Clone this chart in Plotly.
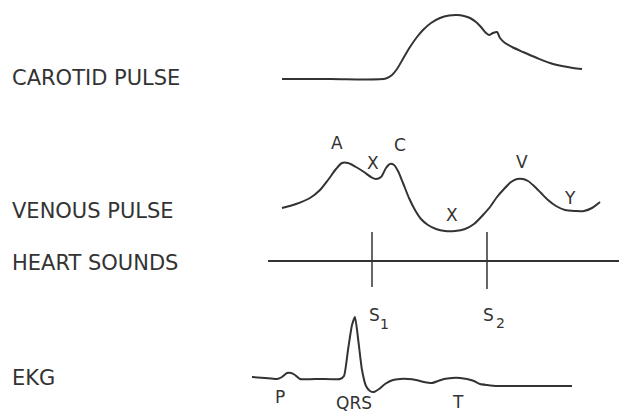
import plotly.graph_objects as go

# ---------------- data (x = time axis, y = screen position) -------------
carotid_x = [282, 330, 386, 392, 397, 404, 410, 417, 423, 431, 440, 449, 457, 464, 470, 476, 481, 486, 489, 493, 497, 500, 505, 512, 523, 537, 550, 562, 573, 582]
carotid_y = [79, 79, 78.5, 75, 69, 57, 47, 37, 30, 23, 18, 15.5, 15, 16, 18, 22, 27, 33, 35, 33, 32, 38, 43, 47, 52, 58, 63, 66, 68, 69]

venous_x = [282, 296, 310, 320, 328, 336, 342, 348, 356, 364, 371, 376, 381, 386, 390, 394, 398, 403, 409, 415, 421, 428, 436, 445, 455, 465, 474, 483, 490, 497, 504, 511, 517, 523, 528, 534, 541, 548, 556, 565, 575, 584, 592, 600]
venous_y = [208, 204, 198, 190, 180, 169, 163, 163, 167, 172, 177, 179, 177, 168, 164, 165, 171, 183, 198, 210, 219, 225, 229, 231, 231, 229, 224, 215, 207, 197, 189, 182, 179, 179, 181, 186, 193, 200, 206, 210, 211, 211, 208, 202]

sounds_x = [268, 627]
sounds_y = [261, 261]
s1_x, s2_x = 372, 487
s_top, s1_bottom, s2_bottom = 232, 287, 289

ekg_x = [252, 265, 277, 282, 287, 291, 295, 300, 320, 340, 344, 348, 352, 355, 358, 362, 366, 370, 374, 379, 385, 393, 400, 408, 416, 424, 432, 438, 444, 452, 460, 467, 474, 480, 487, 497, 510, 530, 550, 572]
ekg_y = [377, 378, 379, 377, 373, 373, 375, 379, 379, 379, 376, 350, 325, 317, 338, 370, 386, 391, 392, 389, 384, 380, 379, 379, 380, 382, 383, 381, 379, 378, 378, 379, 381, 384, 385, 386, 386, 386, 386, 386]

row_labels = ["CAROTID PULSE", "VENOUS PULSE", "HEART SOUNDS", "EKG"]
row_label_y = [78, 211, 263, 378]

wave_labels = ["A", "X", "C", "X", "V", "Y", "S", "S", "P", "QRS", "T"]
wave_label_x = [337, 373, 400, 452, 522, 570, 374, 488, 280, 354, 458]
wave_label_y = [143, 163, 145, 215, 162, 198, 315, 315, 397, 403, 402]

sub_labels = ["1", "2"]
sub_label_x = [384, 500]
sub_label_y = [324, 323]

INK = "#333333"
FONT = "DejaVu Sans"
PAGE_MARGIN = 8  # browser default body margin

fig = go.Figure()
line = dict(color=INK, width=2)
fig.add_trace(go.Scatter(x=carotid_x, y=carotid_y, mode="lines", line=dict(line, shape="spline", smoothing=0.8)))
fig.add_trace(go.Scatter(x=venous_x, y=venous_y, mode="lines", line=dict(line, shape="spline", smoothing=0.8)))
fig.add_trace(go.Scatter(x=sounds_x, y=sounds_y, mode="lines", line=line))
fig.add_trace(go.Scatter(x=[s1_x, s1_x], y=[s_top, s1_bottom], mode="lines", line=dict(color=INK, width=1.5)))
fig.add_trace(go.Scatter(x=[s2_x, s2_x], y=[s_top, s2_bottom], mode="lines", line=dict(color=INK, width=1.5)))
fig.add_trace(go.Scatter(x=ekg_x, y=ekg_y, mode="lines", line=dict(line, shape="spline", smoothing=0.5)))

for t, yy in zip(row_labels, row_label_y):
    fig.add_annotation(x=10, y=yy, text=t,
                       showarrow=False, xanchor="left", yanchor="middle",
                       font=dict(family=FONT, size=21, color=INK))

for t, xx, yy in zip(wave_labels, wave_label_x, wave_label_y):
    fig.add_annotation(x=xx, y=yy, text=t, showarrow=False, xanchor="center", yanchor="middle",
                       font=dict(family=FONT, size=17, color=INK))

for t, xx, yy in zip(sub_labels, sub_label_x, sub_label_y):
    fig.add_annotation(x=xx, y=yy, text=t, showarrow=False, xanchor="center", yanchor="middle",
                       font=dict(family=FONT, size=14, color=INK))

W, H = 627, 420
fig.update_layout(
    width=W - 2 * PAGE_MARGIN, height=H - 2 * PAGE_MARGIN, margin=dict(l=0, r=0, t=0, b=0),
    paper_bgcolor="white", plot_bgcolor="white", showlegend=False,
    xaxis=dict(range=[PAGE_MARGIN, W - PAGE_MARGIN], visible=False, fixedrange=True),
    yaxis=dict(range=[H - PAGE_MARGIN, PAGE_MARGIN], visible=False, fixedrange=True),
)
fig.write_html("out.html")
